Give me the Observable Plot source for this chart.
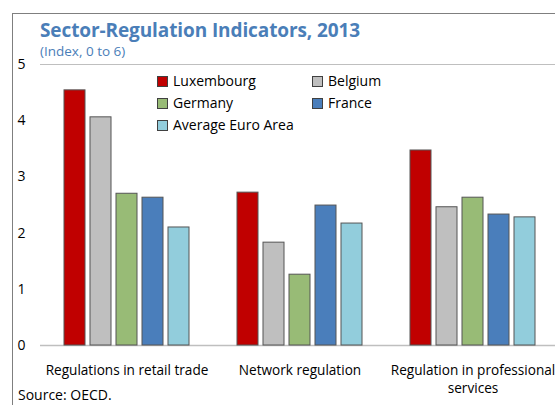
<!DOCTYPE html>
<html>
<head>
<meta charset="utf-8">
<script src="https://cdn.jsdelivr.net/npm/d3@7"></script>
<script src="https://cdn.jsdelivr.net/npm/@observablehq/plot@0.6"></script>
<style>
  html, body { margin: 0; padding: 0; background: #fff; }
  #wrap { position: relative; width: 555px; height: 405px; overflow: hidden; background: #fff; font-family: "Open Sans", sans-serif; }
  #border { position: absolute; left: 12px; top: 13px; width: 600px; height: 450px; border-left: 1.5px solid #7f7f7f; border-top: 1.5px solid #7f7f7f; }
  #title { position: absolute; left: 40px; top: 17px; font-size: 19px; font-weight: bold; color: #4A7EB8; white-space: nowrap; letter-spacing: -0.1px; }
  #subtitle { position: absolute; left: 40px; top: 42px; font-size: 13.5px; color: #4A7EB8; white-space: nowrap; }
  #chart { position: absolute; left: 0; top: 40px; }
  #legend { position: absolute; left: 0; top: 0; }
  .li { position: absolute; font-size: 14px; color: #000; white-space: nowrap; line-height: 18px; }
  .sw { display: inline-block; width: 9px; height: 9px; border: 1px solid #404040; margin-right: 5px; vertical-align: -1px; }
  #source { position: absolute; left: 18px; top: 385px; font-size: 14px; color: #000; white-space: nowrap; }
</style>
</head>
<body>
<div id="wrap">
  <div id="border"></div>
  <div id="title">Sector-Regulation Indicators, 2013</div>
  <div id="subtitle">(Index, 0 to 6)</div>
  <div id="chart"></div>
  <div id="legend"></div>
  <div id="source">Source: OECD.</div>
</div>
<script>
const categories = ["Regulations in retail trade", "Network regulation", "Regulation in professional services"];
const categoryLabels = ["Regulations in retail trade", "Network regulation", "Regulation in professional\nservices"];
const series = ["Luxembourg", "Belgium", "Germany", "France", "Average Euro Area"];
const colors = ["#C00000", "#BFBFBF", "#98BB76", "#4A7EBB", "#92CDDC"];
const luxembourg = [4.54, 2.72, 3.47];
const belgium = [4.06, 1.83, 2.46];
const germany = [2.70, 1.26, 2.63];
const france = [2.63, 2.49, 2.33];
const euroArea = [2.10, 2.17, 2.28];
const yTicks = [0, 1, 2, 3, 4, 5];

const valuesBySeries = [luxembourg, belgium, germany, france, euroArea];
const data = [];
categories.forEach((c, i) => {
  series.forEach((s, j) => {
    data.push({category: c, series: s, value: valuesBySeries[j][i]});
  });
});

const chart = Plot.plot({
  width: 555,
  height: 345,
  marginTop: 24,
  marginBottom: 40,
  marginLeft: 40,
  marginRight: -4,
  style: {fontFamily: "Open Sans", fontSize: "14px", color: "#000", background: "transparent", overflow: "visible"},
  fx: {domain: categories, padding: 0, label: null},
  x: {domain: series, paddingInner: 0.2, paddingOuter: 0.89, axis: null},
  y: {domain: [0, 5], label: null},
  color: {domain: series, range: colors},
  marks: [
    Plot.ruleY([5], {stroke: "#bfbfbf", strokeWidth: 1}),
    Plot.ruleY([0], {stroke: "#bfbfbf", strokeWidth: 1.5}),
    Plot.barY(data, {fx: "category", x: "series", y: "value", fill: "series", stroke: "#555", strokeWidth: 1}),
    Plot.axisY({ticks: yTicks, tickFormat: d3.format("d"), tickSize: 0, tickPadding: 15, line: true, stroke: "#bfbfbf", fill: "#000", fontSize: 14, label: null}),
    Plot.axisFx({anchor: "bottom", tickSize: 0, tickPadding: 17, fontSize: 13.6, lineHeight: 1.32, fill: "#000",
      tickFormat: d => categoryLabels[categories.indexOf(d)], label: null})
  ]
});
document.getElementById("chart").appendChild(chart);

// legend
const legendPos = [[157, 72], [312, 72], [157, 94], [312, 94], [157, 116]];
const legend = document.getElementById("legend");
series.forEach((s, i) => {
  const el = document.createElement("div");
  el.className = "li";
  el.style.left = legendPos[i][0] + "px";
  el.style.top = legendPos[i][1] + "px";
  const sw = document.createElement("span");
  sw.className = "sw";
  sw.style.background = colors[i];
  el.appendChild(sw);
  el.appendChild(document.createTextNode(s));
  legend.appendChild(el);
});
</script>
</body>
</html>
